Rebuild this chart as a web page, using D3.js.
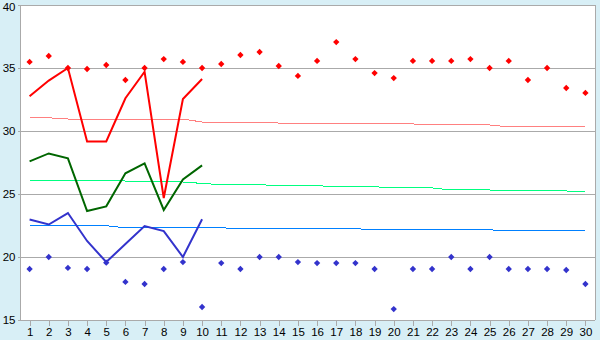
<!DOCTYPE html>
<html>
<head>
<meta charset="utf-8">
<script src="https://cdn.jsdelivr.net/npm/d3@7"></script>
<style>
    body { margin: 0; background: #d8eff6; }
    svg { display: block; font-family: "DejaVu Sans", sans-serif; }
    .grid line { stroke: #aaaaaa; stroke-width: 1; shape-rendering: crispEdges; }
    .axis path, .axis line { stroke: #aaaaaa; shape-rendering: crispEdges; }
    .axis text { fill: #000; font-size: 11.5px; }
</style>
</head>
<body>
<svg id="canvas" width="600" height="340"></svg>
<script>
        const days = d3.range(1, 31);
        const yTicks = [15, 20, 25, 30, 35, 40];

        // scattered daily highs and lows
        const highs = [35.48, 35.95, 35.0, 34.92, 35.24, 34.05, 35.0, 35.71, 35.48, 35.0,
            35.32, 36.03, 36.27, 35.16, 34.37, 35.56, 37.06, 35.71, 34.6, 34.2,
            35.56, 35.56, 35.56, 35.71, 35.0, 35.56, 34.05, 35.0, 33.41, 33.02];
        const lows = [19.05, 20.0, 19.13, 19.05, 19.55, 18.02, 17.86, 19.05, 19.6, 16.03,
            19.52, 19.05, 20.0, 20.0, 19.6, 19.52, 19.52, 19.52, 19.05, 15.87,
            19.05, 19.05, 20.0, 19.05, 20.0, 19.05, 19.05, 19.05, 18.97, 17.86];

        // first ten days lines
        const redLine = [32.75, 34.0, 35.0, 29.17, 29.17, 32.6, 34.7, 24.68, 32.54, 34.13];
        const greenLine = [27.59, 28.22, 27.83, 23.65, 24.02, 26.64, 27.43, 23.73, 26.16, 27.27];
        const blueLine = [22.98, 22.58, 23.49, 21.27, 19.6, 21.03, 22.46, 22.06, 20.0, 23.0];

        // slowly moving average lines
        const avgHigh = [31.05, 31.05, 30.95, 30.95, 30.95, 30.95, 30.95, 30.95, 30.95, 30.71,
            30.71, 30.71, 30.71, 30.63, 30.63, 30.63, 30.63, 30.56, 30.56, 30.56,
            30.56, 30.48, 30.48, 30.48, 30.48, 30.32, 30.32, 30.32, 30.32, 30.32];
        const avgMid = [26.11, 26.11, 26.11, 26.11, 26.11, 26.03, 26.03, 26.03, 25.95, 25.84,
            25.74, 25.74, 25.74, 25.66, 25.66, 25.66, 25.58, 25.58, 25.58, 25.48,
            25.48, 25.48, 25.32, 25.32, 25.32, 25.24, 25.24, 25.24, 25.24, 25.16];
        const avgLow = [22.48, 22.48, 22.48, 22.48, 22.48, 22.32, 22.32, 22.32, 22.32, 22.32,
            22.32, 22.25, 22.25, 22.25, 22.25, 22.25, 22.25, 22.25, 22.16, 22.16,
            22.16, 22.16, 22.16, 22.16, 22.16, 22.07, 22.07, 22.07, 22.07, 22.07];

        const svg = d3.select("#canvas");
        const plotLeft = 20, plotRight = 595, plotTop = 5, plotBottom = 320;

        const x = d3.scaleLinear().domain([0.5, 30.5]).range([plotLeft, plotRight]);
        const y = d3.scaleLinear().domain([15, 40]).range([plotBottom, plotTop]);

        svg.append("rect")
            .attr("x", plotLeft).attr("y", plotTop)
            .attr("width", plotRight - plotLeft).attr("height", plotBottom - plotTop)
            .attr("fill", "#ffffff");

        const grid = svg.append("g").attr("class", "grid");
        yTicks.forEach(t => {
            grid.append("line").attr("x1", plotLeft).attr("x2", plotRight)
                .attr("y1", Math.round(y(t)) + 0.5).attr("y2", Math.round(y(t)) + 0.5);
        });
        grid.append("line").attr("x1", plotRight + 0.5).attr("x2", plotRight + 0.5).attr("y1", plotTop).attr("y2", plotBottom);

        svg.append("g")
            .attr("class", "axis")
            .attr("transform", `translate(${plotLeft + 0.5},0)`)
            .call(d3.axisLeft(y).tickValues(yTicks).tickSize(3).tickPadding(2))
            .call(g => g.select(".domain").attr("d", `M0,${plotTop}V${plotBottom}`))
            .call(g => g.selectAll("text").filter(d => d === 40).attr("dy", "0.5em"));

        svg.append("g")
            .attr("class", "axis")
            .attr("transform", `translate(0,${plotBottom + 0.5})`)
            .call(d3.axisBottom(x).tickValues(days).tickSize(5).tickPadding(2).tickFormat(d3.format("d")))
            .call(g => g.select(".domain").attr("d", `M${plotLeft},0H${plotRight}`));

        function drawLine(values, color, width, crisp) {
            svg.append("path")
                .datum(values)
                .attr("fill", "none")
                .attr("stroke", color)
                .attr("stroke-width", width)
                .attr("shape-rendering", crisp ? "crispEdges" : "auto")
                .attr("d", d3.line().x((d, i) => x(i + 1)).y(d => y(d)));
        }

        drawLine(avgHigh, "#ff8080", 1, true);
        drawLine(avgMid, "#00ff80", 1, true);
        drawLine(avgLow, "#0080ff", 1, true);

        // small diamond markers (square turned by 45 degrees)
        const marker = d3.symbol().type(d3.symbolSquare).size(20);
        function drawPoints(values, color) {
            svg.append("g").selectAll("path")
                .data(values)
                .enter()
                .append("path")
                .attr("transform", (d, i) => `translate(${x(i + 1)},${y(d)}) rotate(45)`)
                .attr("fill", color)
                .attr("d", marker);
        }

        drawPoints(highs, "#ff0000");
        drawPoints(lows, "#3333cc");

        drawLine(redLine, "#ff0000", 2);
        drawLine(greenLine, "#006600", 2);
        drawLine(blueLine, "#3333cc", 2);
</script>
</body>
</html>
